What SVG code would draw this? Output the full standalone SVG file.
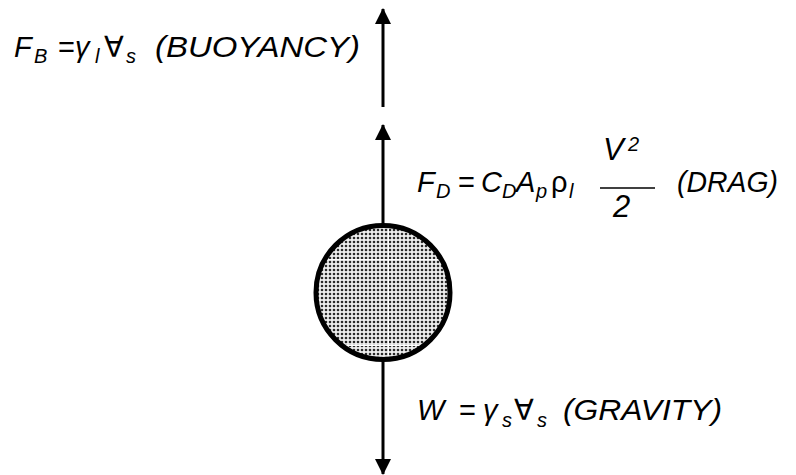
<svg xmlns="http://www.w3.org/2000/svg" width="796" height="475" viewBox="0 0 796 475">
<style>
.t{font-family:"Liberation Sans",Arial,"DejaVu Sans",sans-serif;font-style:italic;fill:#000;}
.m{font-size:29px;}
.b{font-size:31px;}
.s{font-size:20px;}
.u{font-style:normal;}
.ln{stroke:#000;stroke-width:3;fill:none;}
.gap{stroke:#fff;stroke-width:1;}
</style>
<defs>
<marker id="ah" viewBox="0 0 16 16" markerWidth="16" markerHeight="16" refX="15" refY="8" orient="auto" markerUnits="userSpaceOnUse">
<path d="M0,0 L16,8 L0,16 Z" fill="#000"/>
</marker>
<pattern id="dots" width="4" height="4" patternUnits="userSpaceOnUse">
<rect width="4" height="4" fill="#eeeeee"/>
<circle cx="2" cy="2" r="1.3" fill="#2a2a2a"/>
</pattern>
<clipPath id="cc"><circle cx="383" cy="292.5" r="66"/></clipPath>
</defs>
<rect width="796" height="475" fill="#fff"/>
<g id="connectors">
<line class="ln" x1="383" y1="107" x2="383" y2="9" marker-end="url(#ah)"/>
<line class="ln" x1="383" y1="225" x2="383" y2="125" marker-end="url(#ah)"/>
<line class="ln" x1="383" y1="360" x2="383" y2="474" marker-end="url(#ah)"/>
</g>
<g id="particle">
<circle cx="383" cy="292.5" r="67" fill="url(#dots)"/>
<g clip-path="url(#cc)">
<line class="gap" x1="388.5" y1="220" x2="388.5" y2="365"/>
<line class="gap" x1="310" y1="259.5" x2="456" y2="259.5"/>
<line class="gap" x1="310" y1="345.5" x2="456" y2="345.5"/>
</g>
<circle cx="383" cy="292.5" r="67" fill="none" stroke="#000" stroke-width="5"/>
</g>
<g id="buoyancy">
<text class="t m" x="14" y="57">F</text>
<text class="t s" x="34" y="63">B</text>
<text class="t m u" x="58" y="57">=</text>
<text class="t m" x="75" y="57">γ</text>
<text class="t s" x="95" y="63">l</text>
<text class="t m u" x="104" y="57">∀</text>
<text class="t s" x="126" y="63">s</text>
<text class="t m" x="155" y="57" textLength="205" lengthAdjust="spacingAndGlyphs">(BUOYANCY)</text>
</g>
<g id="drag">
<text class="t m" x="417" y="192">F</text>
<text class="t s" x="436" y="198">D</text>
<text class="t m u" x="458" y="192">=</text>
<text class="t m" x="481" y="192">C</text>
<text class="t s" x="502" y="198">D</text>
<text class="t m" x="516" y="192">A</text>
<text class="t s" x="536" y="198">p</text>
<text class="t m u" x="551" y="192">ρ</text>
<text class="t s" x="569" y="198">l</text>
<text class="t b" x="603" y="160">V</text>
<text class="t s" x="628" y="151">2</text>
<line x1="600" y1="188" x2="655" y2="188" stroke="#000" stroke-width="1.5"/>
<text class="t b" x="613" y="217">2</text>
<text class="t m" x="677" y="192" textLength="101" lengthAdjust="spacingAndGlyphs">(DRAG)</text>
</g>
<g id="gravity">
<text class="t m" x="417" y="420">W</text>
<text class="t m u" x="459" y="420">=</text>
<text class="t m" x="483" y="420">γ</text>
<text class="t s" x="502" y="427">s</text>
<text class="t m u" x="514" y="420">∀</text>
<text class="t s" x="537" y="427">s</text>
<text class="t m" x="563" y="420" textLength="159" lengthAdjust="spacingAndGlyphs">(GRAVITY)</text>
</g>
</svg>
